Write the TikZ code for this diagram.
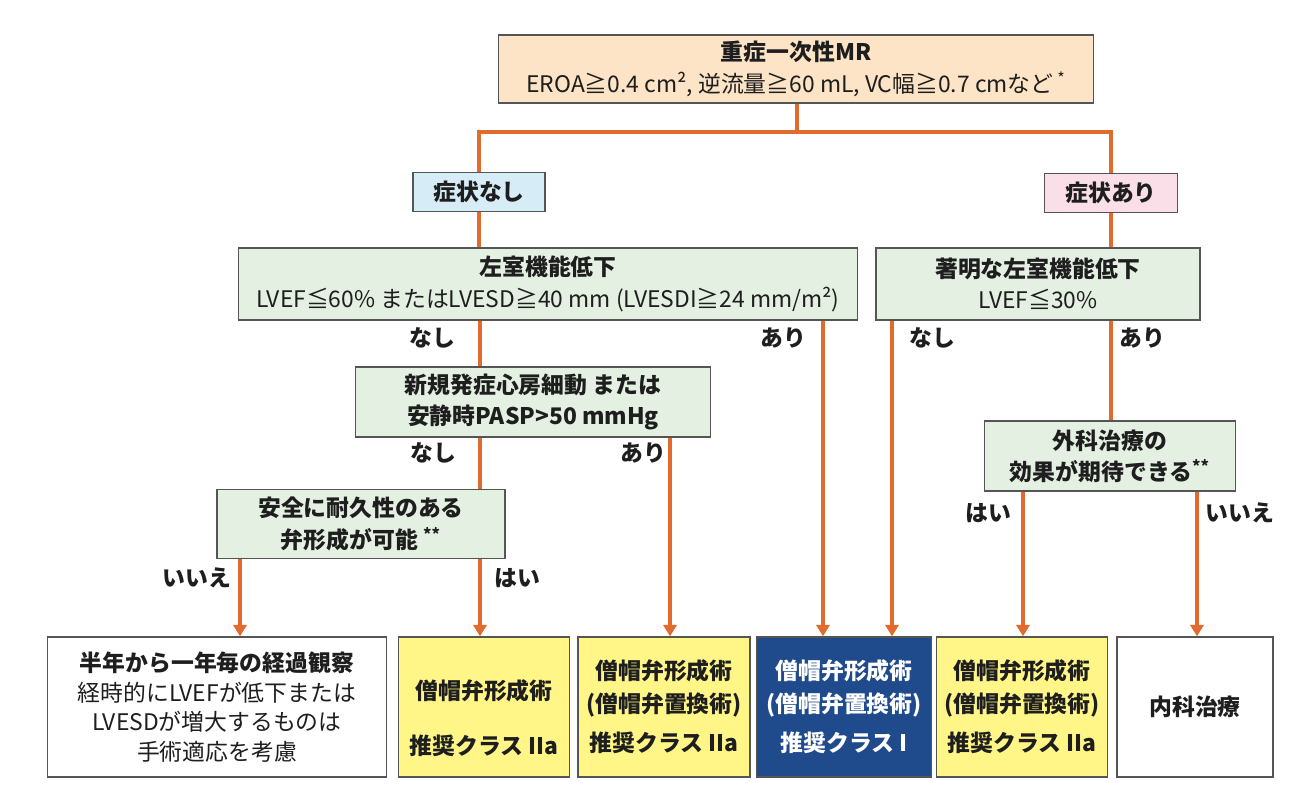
\documentclass[tikz,border=0pt]{standalone}
\usepackage{fontspec}
\setmainfont{Noto Sans CJK JP}
\usetikzlibrary{arrows.meta}

\definecolor{flow}{RGB}{226,106,44}
\definecolor{edge}{RGB}{85,85,85}
\definecolor{ink}{RGB}{30,30,30}
\definecolor{peach}{RGB}{253,228,198}
\definecolor{skyb}{RGB}{214,236,247}
\definecolor{rose}{RGB}{250,222,232}
\definecolor{mint}{RGB}{228,240,226}
\definecolor{lemon}{RGB}{255,246,135}
\definecolor{navy}{RGB}{31,74,140}

\begin{document}
\begin{tikzpicture}[x=0.02cm,y=-0.02cm,
  box/.style={draw=edge,line width=0.8pt,align=center,inner sep=0pt,text=ink,
    font=\fontsize{13}{17.8}\selectfont},
  bbox/.style={box,font=\fontsize{13}{17.8}\selectfont\bfseries},
  lab/.style={text=ink,font=\fontsize{13}{15}\selectfont\bfseries},
  link/.style={draw=flow,line width=2.6pt},
  arr/.style={link,-{Triangle[width=7.5pt,length=6.5pt]}}]
  \useasboundingbox (0,0) rectangle (1299,790);

  % decision boxes
  \node[box,fill=peach,minimum width=11.9cm,minimum height=1.36cm] (mr) at (796,69)
    {{\bfseries 重症一次性MR}\\EROA≧0.4 cm², 逆流量≧60 mL, VC幅≧0.7 cmなど\,\textsuperscript{*}};
  \node[bbox,fill=skyb,minimum width=2.64cm,minimum height=0.78cm] (nosym) at (479,192) {症状なし};
  \node[bbox,fill=rose,minimum width=2.66cm,minimum height=0.78cm] (sym) at (1111,193) {症状あり};
  \node[box,fill=mint,minimum width=12.38cm,minimum height=1.44cm] (lvd) at (548,284)
    {{\bfseries 左室機能低下}\\LVEF≦60\% またはLVESD≧40 mm (LVESDI≧24 mm/m²)};
  \node[box,fill=mint,minimum width=6.48cm,minimum height=1.44cm] (sevlv) at (1038,284)
    {{\bfseries 著明な左室機能低下}\\LVEF≦30\%};
  \node[bbox,fill=mint,minimum width=7.1cm,minimum height=1.4cm] (afib) at (533,402)
    {新規発症心房細動 または\\安静時PASP>50 mmHg};
  \node[bbox,fill=mint,minimum width=5.76cm,minimum height=1.38cm] (repair) at (361,524)
    {安全に耐久性のある\\弁形成が可能 \textsuperscript{**}};
  \node[bbox,fill=mint,minimum width=5.02cm,minimum height=1.4cm] (surg) at (1110,456)
    {外科治療の\\効果が期待できる\textsuperscript{**}};

  % outcome boxes
  \node[box,fill=white,minimum width=6.78cm,minimum height=2.8cm,font=\fontsize{13}{16.8}\selectfont] (watch) at (217,707)
    {{\bfseries 半年から一年毎の経過観察}\\経時的にLVEFが低下または\\LVESDが増大するものは\\手術適応を考慮};
  \node[bbox,fill=lemon,minimum width=3.42cm,minimum height=2.8cm,font=\fontsize{13}{18.5}\selectfont\bfseries] (mvpa) at (484,707)
    {\rule{0pt}{24pt}僧帽弁形成術\\[13pt]推奨クラス IIa};
  \node[bbox,fill=lemon,minimum width=3.44cm,minimum height=2.8cm,font=\fontsize{13}{18.5}\selectfont\bfseries] (mvpb) at (664,707)
    {僧帽弁形成術\\(僧帽弁置換術)\\[4pt]推奨クラス IIa};
  \node[bbox,fill=navy,text=white,minimum width=3.5cm,minimum height=2.8cm,font=\fontsize{13}{18.5}\selectfont\bfseries] (mvpc) at (844,707)
    {僧帽弁形成術\\(僧帽弁置換術)\\[4pt]推奨クラス I};
  \node[bbox,fill=lemon,minimum width=3.42cm,minimum height=2.8cm,font=\fontsize{13}{18.5}\selectfont\bfseries] (mvpd) at (1022,707)
    {僧帽弁形成術\\(僧帽弁置換術)\\[4pt]推奨クラス IIa};
  \node[bbox,fill=white,minimum width=3.12cm,minimum height=2.8cm] (med) at (1195,707)
    {内科治療};

  % columns of the connectors
  \coordinate (split) at (797,132);
  \coordinate (cA) at (240,0);
  \coordinate (cB) at (480,0);
  \coordinate (cC) at (670,0);
  \coordinate (cD) at (823,0);
  \coordinate (cE) at (892,0);
  \coordinate (cF) at (1023,0);
  \coordinate (cG) at (1111,0);
  \coordinate (cH) at (1197,0);

  % connectors
  \draw[link] (mr.south -| split) -- (split);
  \draw[link,line join=miter] (nosym.north) |- (split) -| (sym.north);
  \draw[link] (nosym.south) -- (lvd.north -| nosym.south);
  \draw[link] (sym.south) -- (sevlv.north -| sym.south);
  \draw[link] (lvd.south -| cB) -- (afib.north -| cB);
  \draw[arr] (lvd.south -| cD) -- (mvpc.north -| cD);
  \draw[link] (afib.south -| cB) -- (repair.north -| cB);
  \draw[arr] (afib.south -| cC) -- (mvpb.north -| cC);
  \draw[arr] (repair.south -| cA) -- (watch.north -| cA);
  \draw[arr] (repair.south -| cB) -- (mvpa.north -| cB);
  \draw[arr] (sevlv.south -| cE) -- (mvpc.north -| cE);
  \draw[link] (sevlv.south -| cG) -- (surg.north -| cG);
  \draw[arr] (surg.south -| cF) -- (mvpd.north -| cF);
  \draw[arr] (surg.south -| cH) -- (med.north -| cH);

  % branch labels
  \node[lab] (l1) at (432,338) {なし};
  \node[lab] (l2) at (783,338) {あり};
  \node[lab] (l3) at (932,338) {なし};
  \node[lab] (l4) at (1142,338) {あり};
  \node[lab] (l5) at (433,453) {なし};
  \node[lab] (l6) at (643,453) {あり};
  \node[lab] (l7) at (197,578) {いいえ};
  \node[lab] (l8) at (517,578) {はい};
  \node[lab] (l9) at (988,513) {はい};
  \node[lab] (l10) at (1240,513) {いいえ};
\end{tikzpicture}
\end{document}
